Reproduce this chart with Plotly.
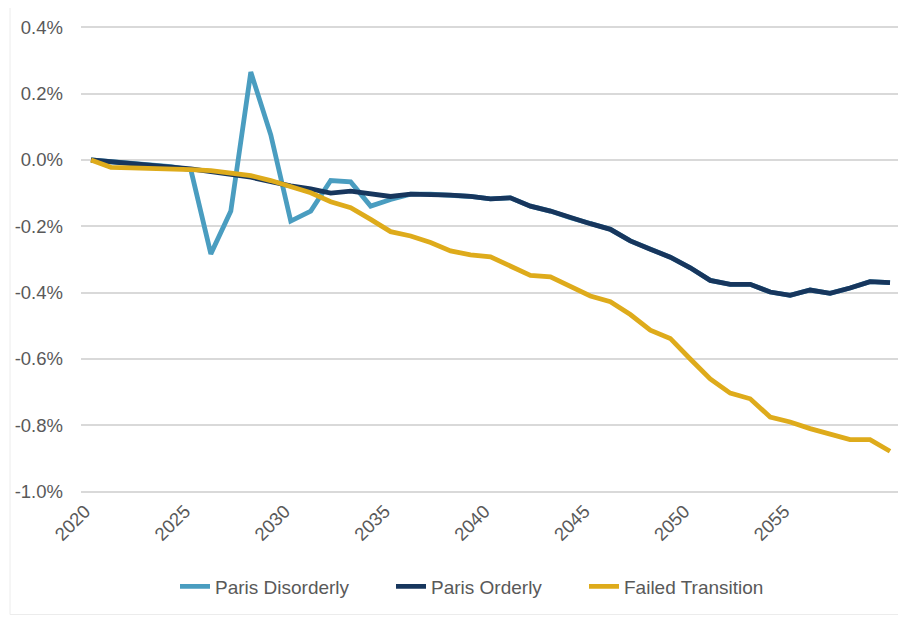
import plotly.graph_objects as go

years = list(range(2020, 2061))

paris_orderly = [0.000, -0.005, -0.010, -0.015, -0.020, -0.027, -0.035, -0.043, -0.052, -0.065,
                 -0.078, -0.087, -0.100, -0.094, -0.101, -0.110, -0.103, -0.103, -0.106, -0.110,
                 -0.117, -0.114, -0.139, -0.154, -0.174, -0.192, -0.209, -0.244, -0.269, -0.293,
                 -0.325, -0.363, -0.375, -0.375, -0.398, -0.408, -0.392, -0.402, -0.386, -0.367,
                 -0.370]

paris_disorderly = [0.000, -0.005, -0.010, -0.015, -0.020, -0.030, -0.283, -0.154, 0.265, 0.076,
                    -0.184, -0.154, -0.062, -0.066, -0.139, -0.119, -0.103, -0.103, -0.106, -0.110,
                    -0.117, -0.114, -0.139, -0.154, -0.174, -0.192, -0.209, -0.244, -0.269, -0.293,
                    -0.325, -0.363, -0.375, -0.375, -0.398, -0.408, -0.392, -0.402, -0.386, -0.367,
                    -0.370]

failed_transition = [0.000, -0.022, -0.024, -0.025, -0.026, -0.029, -0.032, -0.038, -0.047, -0.062,
                     -0.080, -0.099, -0.126, -0.144, -0.179, -0.216, -0.229, -0.249, -0.274, -0.286,
                     -0.292, -0.319, -0.348, -0.352, -0.380, -0.410, -0.427, -0.466, -0.513, -0.538,
                     -0.600, -0.660, -0.703, -0.720, -0.775, -0.790, -0.810, -0.826, -0.843, -0.843,
                     -0.878]

x_tick_vals = [2020, 2025, 2030, 2035, 2040, 2045, 2050, 2055]
x_tick_text = ["2020", "2025", "2030", "2035", "2040", "2045", "2050", "2055"]
y_tick_vals = [0.4, 0.2, 0.0, -0.2, -0.4, -0.6, -0.8, -1.0]
y_tick_text = ["0.4%", "0.2%", "0.0%", "-0.2%", "-0.4%", "-0.6%", "-0.8%", "-1.0%"]

FONT = "Liberation Sans, Arial, sans-serif"
TXT = "#595959"
GRID = "#d9d9d9"

fig = go.Figure()
fig.add_trace(go.Scatter(x=years, y=paris_disorderly, mode="lines", name="Paris Disorderly",
                         line=dict(color="#4A9DC0", width=4.8), legend="legend"))
fig.add_trace(go.Scatter(x=years, y=paris_orderly, mode="lines", name="Paris Orderly",
                         line=dict(color="#17365D", width=4.8), legend="legend2"))
fig.add_trace(go.Scatter(x=years, y=failed_transition, mode="lines", name="Failed Transition",
                         line=dict(color="#DEAB1B", width=4.8), legend="legend3"))

# page body has an 8px margin; figure coords = window coords - 8
OFF = 8
PAD = 0.004  # small y padding so the edge gridlines are drawn
W, H = 898, 611
pw = 819
ph = 465 * (1.4 + 2 * PAD) / 1.4
L = 81 - OFF
T = 27 - OFF - 465 * PAD / 1.4
R, B = W - L - pw, H - T - ph

def px(xw):
    return (xw - OFF - L) / pw

def py(yw):
    return (H - B - (yw - OFF)) / ph

leg_common = dict(orientation="h", yanchor="middle", xanchor="left", y=py(587),
                  font=dict(family=FONT, size=19, color=TXT), bgcolor="rgba(0,0,0,0)")

fig.update_layout(
    width=W, height=H,
    margin=dict(l=L, r=R, t=T, b=B),
    paper_bgcolor="white", plot_bgcolor="white",
    font=dict(family=FONT, size=18.5, color=TXT),
    showlegend=True,
    xaxis=dict(range=[2019.5, 2060.5], tickvals=x_tick_vals, ticktext=x_tick_text,
               tickangle=-45, showgrid=False, showline=False, zeroline=False,
               ticks="", ticklabelstandoff=3, ticklabelshift=-6,
               tickfont=dict(size=18.5, color=TXT)),
    xaxis2=dict(range=[2019.5, 2060.5], overlaying="x", anchor="free",
                position=(1.0 + PAD) / (1.4 + 2 * PAD),
                side="top", showline=True, linecolor=GRID, linewidth=1.5,
                ticks="outside", ticklen=5, tickwidth=1.5, tickcolor=GRID,
                tickmode="linear", tick0=2019.5, dtick=1, showticklabels=False,
                showgrid=False, zeroline=False, layer="below traces"),
    yaxis=dict(range=[-1.0 - PAD, 0.4 + PAD], tickvals=y_tick_vals, ticktext=y_tick_text,
               showgrid=True, gridcolor=GRID, gridwidth=1.5, zeroline=False,
               showline=False, ticks="", ticklabelstandoff=17,
               tickfont=dict(size=18.5, color=TXT)),
    legend=dict(x=px(175), **leg_common),
    legend2=dict(x=px(391), **leg_common),
    legend3=dict(x=px(584), **leg_common),
    shapes=[dict(type="rect", xref="paper", yref="paper",
                 x0=px(10), x1=px(912), y0=py(615), y1=py(-5),
                 line=dict(color="#ececec", width=1), fillcolor="rgba(0,0,0,0)", layer="below")],
)

fig.write_html("out.html")
